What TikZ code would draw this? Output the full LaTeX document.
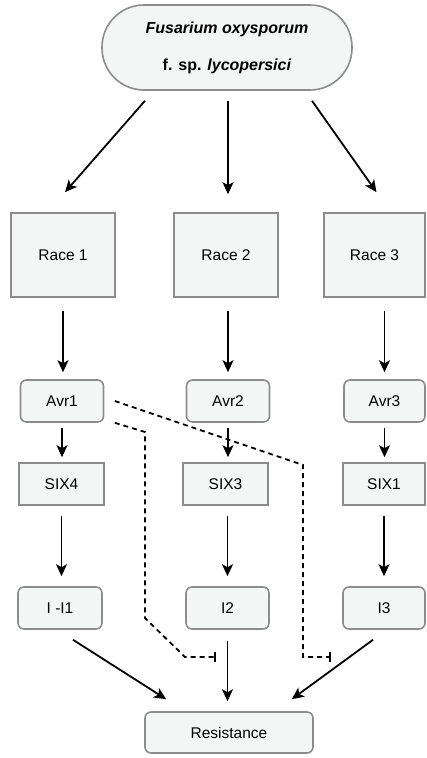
\documentclass[tikz,border=0pt]{standalone}
\usepackage{fontspec}
\setmainfont{Liberation Sans}
\usetikzlibrary{arrows.meta}
\definecolor{boxfill}{HTML}{F4F6F6}
\definecolor{boxline}{HTML}{8C8C8C}
\tikzset{
  x=1pt,y=-1pt,
  sqbox/.style={draw=boxline,fill=boxfill,line width=1.6pt,inner sep=0pt,font=\fontsize{15.5}{18}\selectfont},
  rdbox/.style={sqbox,rounded corners=6pt},
  arr/.style={line width=1.8pt,-{Stealth[length=12pt,width=11pt,inset=3pt]}},
  inh/.style={line width=1.8pt,dash pattern=on 5pt off 4pt,-{Bar[width=10pt,line width=1.8pt]}},
}
\begin{document}
\begin{tikzpicture}
\useasboundingbox (0,0) rectangle (426,758);
\node[sqbox,rounded corners=42pt,minimum width=250pt,minimum height=85pt,align=center,font=\fontsize{16}{37}\selectfont\bfseries] (top) at (227,47.5) {\textit{Fusarium oxysporum}\\f. sp. \textit{lycopersici}};
\node[sqbox,minimum width=104pt,minimum height=84pt] (race1) at (63,255) {Race 1};
\node[sqbox,minimum width=104pt,minimum height=84pt] (race2) at (226,255) {Race 2};
\node[sqbox,minimum width=101pt,minimum height=84pt] (race3) at (374.5,255) {Race 3};
\node[rdbox,minimum width=83pt,minimum height=42pt] (avr1) at (62,401) {Avr1};
\node[rdbox,minimum width=83pt,minimum height=42pt] (avr2) at (228,401) {Avr2};
\node[rdbox,minimum width=81pt,minimum height=42pt] (avr3) at (384.5,401) {Avr3};
\node[sqbox,minimum width=85pt,minimum height=42pt] (six4) at (61.5,484) {SIX4};
\node[sqbox,minimum width=85pt,minimum height=42pt] (six3) at (225.5,484) {SIX3};
\node[sqbox,minimum width=82pt,minimum height=42pt] (six1) at (384,484) {SIX1};
\node[rdbox,minimum width=84pt,minimum height=42pt] (i1) at (60,608) {I -I1};
\node[rdbox,minimum width=83pt,minimum height=42pt] (i2) at (227.5,608) {I2};
\node[rdbox,minimum width=82pt,minimum height=42pt] (i3) at (384,608) {I3};
\node[rdbox,minimum width=168pt,minimum height=41pt] (res) at (229,732.5) {Resistance};
% top arrows
\draw[arr] ([xshift=-82pt,yshift=-10pt]top.south) -- ([xshift=2pt,yshift=20pt]race1.north);
\draw[arr] ([xshift=1pt,yshift=-10pt]top.south) -- ([xshift=1pt,yshift=18pt]top.south |- race2.north);
\draw[arr] ([xshift=85pt,yshift=-10pt]top.south) -- ([xshift=2pt,yshift=20pt]race3.north);
% race -> avr
\draw[arr,shorten <=13pt,shorten >=7pt] (race1.south) -- (race1.south |- avr1.north);
\draw[arr,shorten <=13pt,shorten >=7pt] (race2.south -| avr2.north) -- (avr2.north);
\draw[arr,shorten <=13pt,shorten >=7pt] (race3.south -| avr3.north) -- (avr3.north);
% avr -> six
\draw[arr,shorten <=5pt,shorten >=5pt] (avr1.south) -- (avr1.south |- six4.north);
\draw[arr,shorten <=5pt,shorten >=5pt] (avr2.south) -- (avr2.south |- six3.north);
\draw[arr,shorten <=5pt,shorten >=5pt] (avr3.south) -- (avr3.south |- six1.north);
% six -> I
\draw[arr,shorten <=10pt,shorten >=10pt] (six4.south) -- (six4.south |- i1.north);
\draw[arr,shorten <=10pt,shorten >=10pt] (six3.south -| i2.north) -- (i2.north);
\draw[arr,shorten <=10pt,shorten >=10pt] (six1.south) -- (six1.south |- i3.north);
% I -> resistance
\draw[arr] ([xshift=13pt,yshift=-10pt]i1.south) -- ([xshift=22pt,yshift=12pt]res.north west);
\draw[arr,shorten <=11pt,shorten >=10pt] (i2.south) -- (i2.south |- res.north);
\draw[arr] ([xshift=-11pt,yshift=-10pt]i3.south) -- ([xshift=-22pt,yshift=12pt]res.north east);
% inhibition dashed lines
\coordinate (a1) at ([xshift=10.5pt]avr1.east);
\coordinate (b1) at ([xshift=10.5pt]avr1.south east);
\draw[inh] (a1) -- (303,465) -- (303,657) -- (331,657);
\draw[inh] (b1) -- (145,432) -- (145,618) -- (185,657) -- (216,657);
\end{tikzpicture}
\end{document}
